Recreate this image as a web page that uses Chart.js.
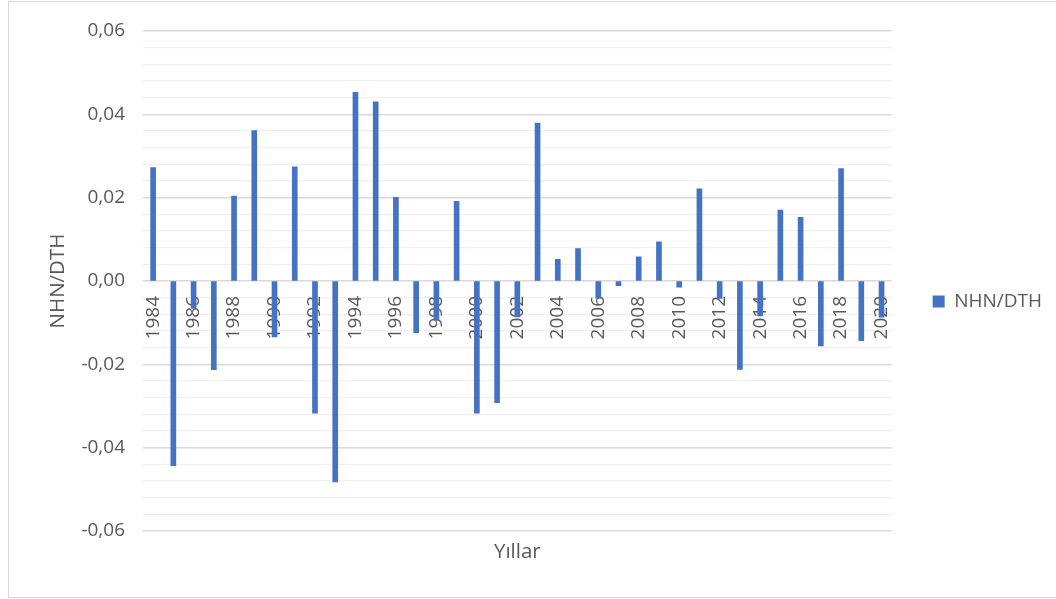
<!DOCTYPE html>
<html>
<head>
<meta charset="utf-8">
<script src="https://cdn.jsdelivr.net/npm/chart.js@4/dist/chart.umd.min.js"></script>
<style>
  html, body { margin: 0; padding: 0; background: #fff; overflow: hidden; }
  #wrap { position: relative; width: 1056px; height: 599px; }
  #frame { position: absolute; left: 8px; top: 1px; width: 1070px; height: 595px; border: 1px solid #d9d9d9; }
  canvas { position: absolute; left: 0; top: 0; }
</style>
</head>
<body>
<div id="wrap">
  <div id="frame"></div>
  <canvas id="c" width="1056" height="599"></canvas>
</div>
<script>
// Years on the category axis
const years = [
  '1984','1985','1986','1987','1988','1989','1990','1991','1992','1993',
  '1994','1995','1996','1997','1998','1999','2000','2001','2002','2003',
  '2004','2005','2006','2007','2008','2009','2010','2011','2012','2013',
  '2014','2015','2016','2017','2018','2019','2020'
];

// NHN/DTH ratio per year
const nhnDth = [
  0.0272, -0.0443, -0.0066, -0.0213, 0.0204, 0.0361, -0.0134, 0.0274, -0.0317, -0.0482,
  0.0453, 0.0430, 0.0201, -0.0124, -0.0094, 0.0191, -0.0317, -0.0292, -0.0086, 0.0379,
  0.0052, 0.0078, -0.0041, -0.0011, 0.0058, 0.0094, -0.0015, 0.0221, -0.0042, -0.0212,
  -0.0084, 0.0170, 0.0153, -0.0156, 0.0270, -0.0143, -0.0087
];

// Value axis: labelled every 0.02, minor grid every 0.004
const yMin = -0.06;
const yMax = 0.06;
const yStep = 0.004;
const yLabelEvery = 0.02;

const seriesName = 'NHN/DTH';
const xTitle = 'Yıllar';
const yTitle = 'NHN/DTH';

const FONT = "'Open Sans', 'Liberation Sans', sans-serif";
const TEXT = '#595959';

function isMajor(v) {
  const k = Math.round(v / yStep);
  const per = Math.round(yLabelEvery / yStep);
  return k % per === 0;
}

new Chart(document.getElementById('c'), {
  type: 'bar',
  data: {
    labels: years,
    datasets: [{
      label: seriesName,
      data: nhnDth,
      backgroundColor: '#4472C4',
      borderWidth: 0,
      barThickness: 5,
      xAxisID: 'x',
      yAxisID: 'y'
    }]
  },
  options: {
    responsive: false,
    animation: false,
    events: [],
    layout: { padding: { left: 40, top: 31, right: 4, bottom: 27 } },
    plugins: {
      tooltip: { enabled: false },
      legend: {
        position: 'right',
        labels: {
          boxWidth: 12,
          boxHeight: 12,
          padding: 41,
          color: TEXT,
          font: { family: FONT, size: 19 }
        }
      }
    },
    scales: {
      x: {
        type: 'category',
        position: { y: 0 },
        grid: { display: false, drawTicks: false },
        border: { display: false },
        ticks: {
          autoSkip: false,
          minRotation: 90,
          maxRotation: 90,
          padding: 15,
          color: TEXT,
          font: { family: FONT, size: 19 },
          callback: function (value, index) {
            return index % 2 === 0 ? this.getLabelForValue(value) : '';
          }
        }
      },
      xTitleAxis: {
        type: 'category',
        position: 'bottom',
        grid: { display: false, drawTicks: false },
        border: { display: false },
        ticks: { display: false },
        title: {
          display: true,
          text: xTitle,
          color: TEXT,
          font: { family: FONT, size: 20.5 },
          padding: { top: 0, bottom: 8 }
        },
        afterFit: function (scale) { scale.height = 41; }
      },
      y: {
        min: yMin,
        max: yMax,
        border: { display: false },
        grid: {
          drawTicks: false,
          color: function (ctx) {
            return isMajor(ctx.tick.value) ? '#d9d9d9' : '#f0f0f0';
          },
          lineWidth: function (ctx) {
            return isMajor(ctx.tick.value) ? 1.4 : 1.2;
          }
        },
        ticks: {
          stepSize: yStep,
          autoSkip: false,
          padding: 18,
          color: TEXT,
          font: { family: FONT, size: 19 },
          callback: function (value) {
            if (!isMajor(value)) return '';
            const v = Math.round(value * 100) / 100;
            return (v === 0 ? 0 : v).toFixed(2).replace('.', ',');
          }
        },
        title: {
          display: true,
          text: yTitle,
          color: TEXT,
          font: { family: FONT, size: 20.5 },
          padding: { top: 6, bottom: 0 }
        },
        afterFit: function (scale) { scale.width = 103; }
      }
    }
  }
});
</script>
</body>
</html>
